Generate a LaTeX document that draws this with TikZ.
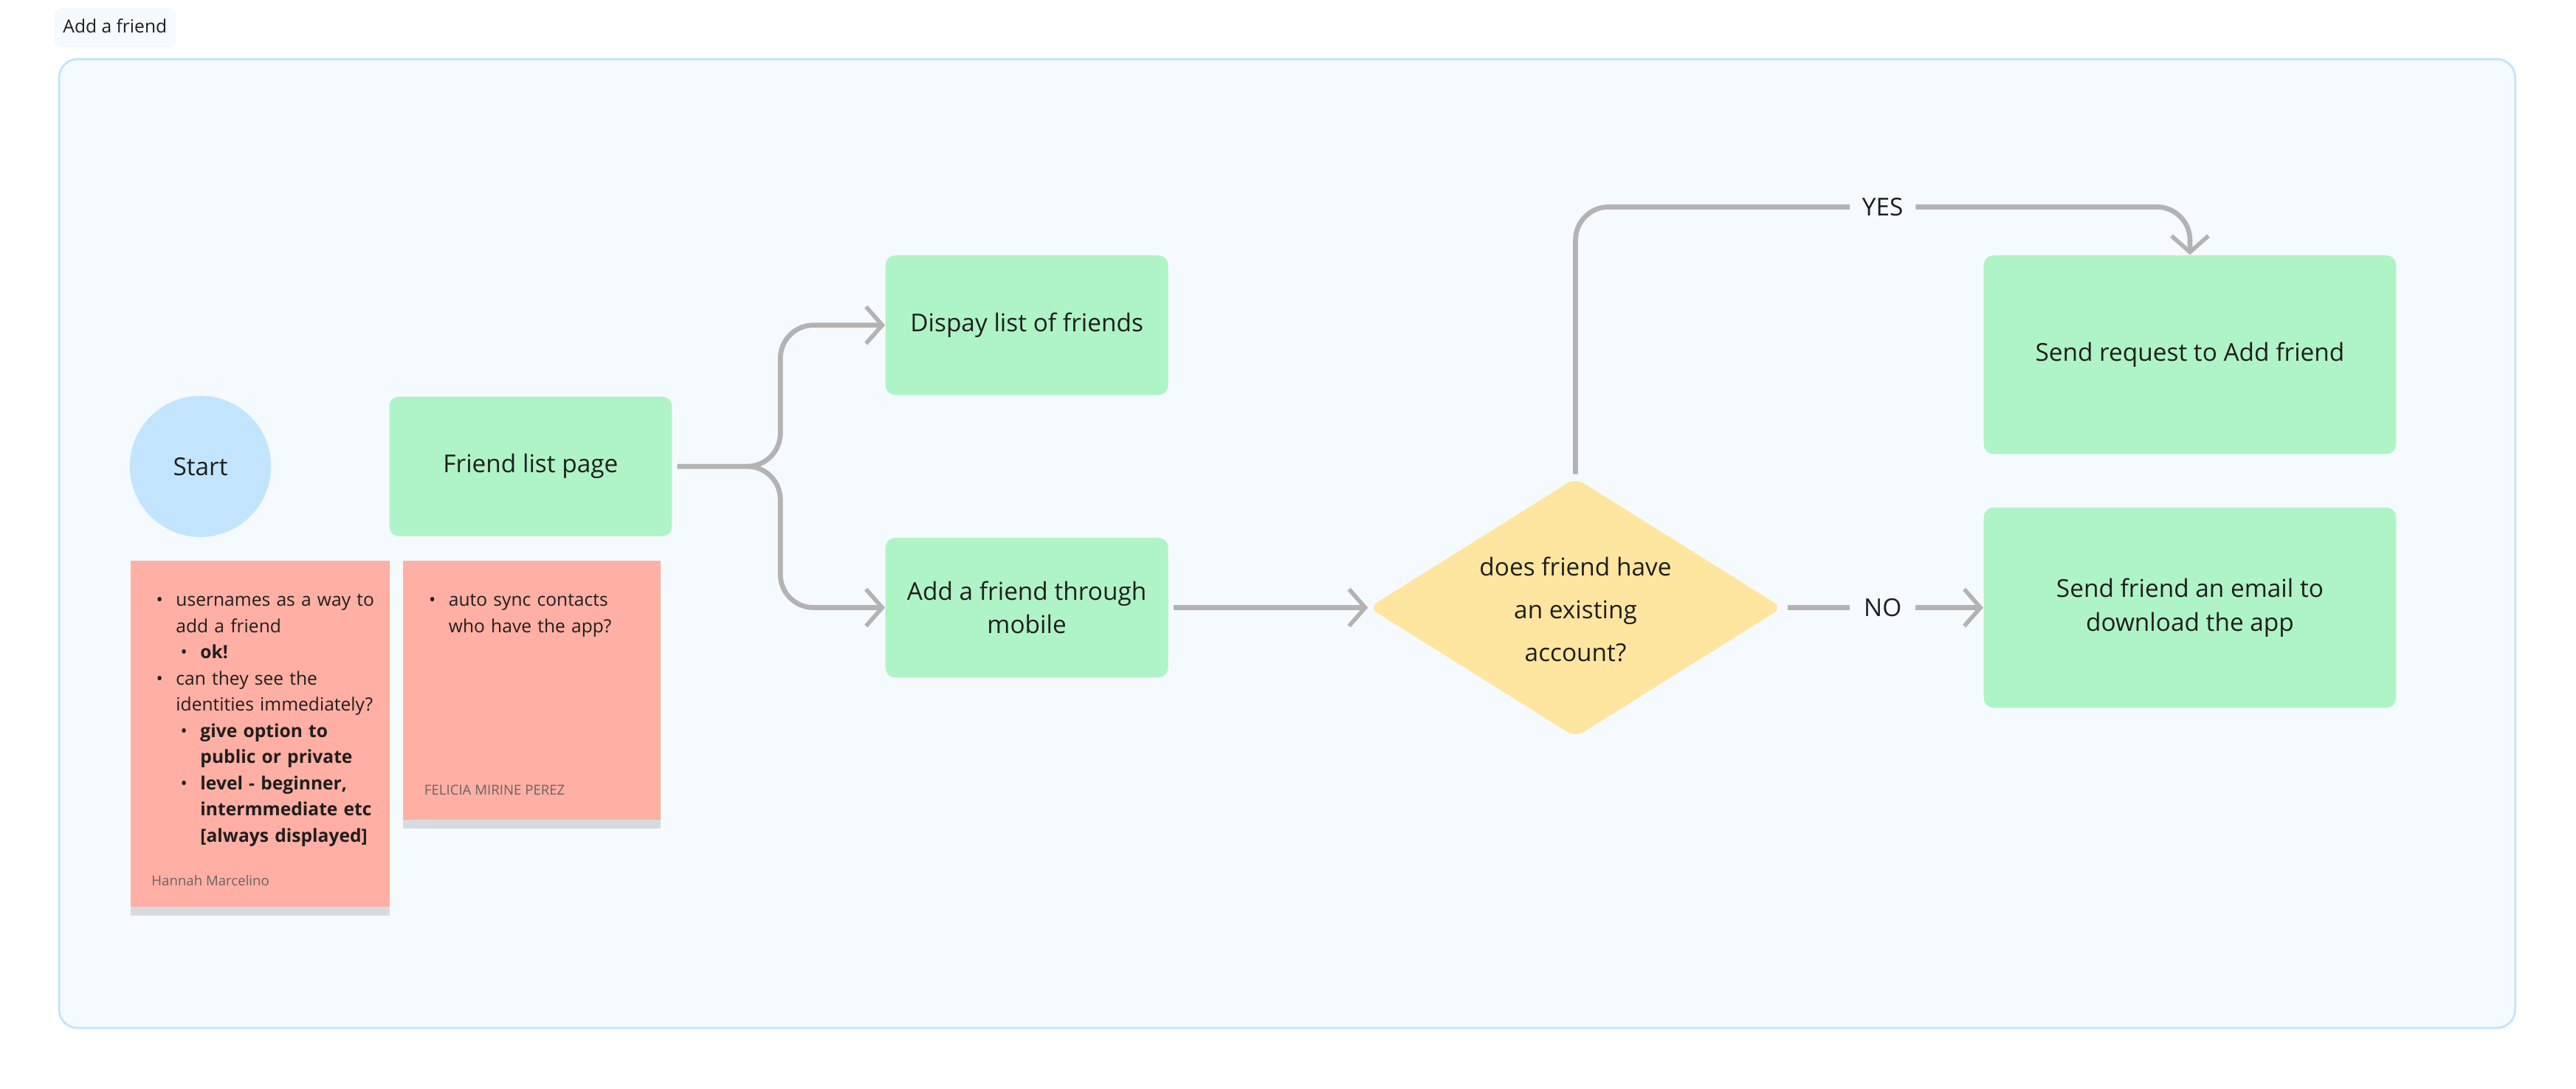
\documentclass[tikz,border=0pt]{standalone}
\usepackage{fontspec}
\setmainfont{Open Sans}
\usepackage{enumitem}
\usetikzlibrary{arrows.meta,shapes.geometric,shadows}
\definecolor{frameb}{HTML}{C2E5FD}
\definecolor{framef}{HTML}{F5FAFE}
\definecolor{grn}{HTML}{AFF4C6}
\definecolor{startc}{HTML}{C2E5FD}
\definecolor{sticky}{HTML}{FFAFA3}
\definecolor{dia}{HTML}{FFE6A0}
\definecolor{lin}{HTML}{B3B3B3}
\definecolor{txt}{HTML}{1E1E1E}
\begin{document}
\begin{tikzpicture}[x=0.02226cm,y=-0.02226cm,
  box/.style={fill=grn,rounded corners=1.3mm,inner sep=0pt,font=\fontsize{9.5}{13}\selectfont,text=txt,align=center},
  note/.style={fill=sticky,inner sep=0pt,drop shadow={shadow xshift=0pt,shadow yshift=-1.2mm,opacity=0.25,fill=gray}},
  conn/.style={draw=lin,line width=1.9pt,rounded corners=4.5mm,-{Straight Barb[length=2.2mm,width=5mm,line width=1.6pt]}},
  lbl/.style={fill=framef,font=\fontsize{9.5}{12}\selectfont,text=txt,inner sep=2mm}]
\useasboundingbox (0,0) rectangle (1568,663);
\fill[white] (0,0) rectangle (1568,663);
\node[fill=framef,rounded corners=1mm,minimum width=68\pgflinewidth,inner sep=0pt,font=\fontsize{7}{9}\selectfont,text=txt] (title) at (70,17) {\rule{0pt}{0pt}\hspace{1.2mm}Add a friend\hspace{1.2mm}\rule[-2mm]{0pt}{5.3mm}};
\draw[frameb,fill=framef,line width=0.8pt,rounded corners=2.5mm] (36,36) rectangle (1531,626);
\node[circle,fill=startc,minimum size=86*0.2226mm,inner sep=0pt,font=\fontsize{9.5}{12}\selectfont,text=txt] (start) at (122,284) {Start};
\node[box,minimum width=172*0.2226mm,minimum height=85*0.2226mm] (flp) at (323,284) {Friend list page};
\node[box,minimum width=172*0.2226mm,minimum height=85*0.2226mm] (disp) at (625,198) {Dispay list of friends};
\node[box,minimum width=172*0.2226mm,minimum height=85*0.2226mm] (mob) at (625,370) {Add a friend through\\mobile};
\node[diamond,fill=dia,rounded corners=1.3mm,inner sep=0pt,minimum width=252*0.2226mm,minimum height=158*0.2226mm,font=\fontsize{9.5}{16}\selectfont,text=txt,align=center] (dec) at (959,370) {};
\node[font=\fontsize{9.5}{16.5}\selectfont,text=txt,align=center] at (959,371) {does friend have\\an existing\\account?};
\node[box,minimum width=251*0.2226mm,minimum height=121*0.2226mm] (req) at (1333,216) {Send request to Add friend};
\node[box,minimum width=251*0.2226mm,minimum height=122*0.2226mm] (mail) at (1333,370) {Send friend an email to\\download the app};
% sticky notes
\node[note,minimum width=158*0.2226mm,minimum height=211*0.2226mm,anchor=north west] (n1) at (79,341) {};
\node[note,minimum width=157*0.2226mm,minimum height=158*0.2226mm,anchor=north west] (n2) at (245,341) {};
\node[anchor=north west,inner sep=0pt,text width=140*0.2226mm,font=\fontsize{7}{10.1}\selectfont,text=txt] (t1) at (92,353) {%
\begin{itemize}[leftmargin=3.3mm,itemsep=0pt,topsep=0pt,parsep=0pt,label=\textbullet]
\item usernames as a way to add a friend
 \begin{itemize}[leftmargin=3.3mm,itemsep=0pt,topsep=0pt,parsep=0pt,label=\textbullet]\item \textbf{ok!}\end{itemize}
\item can they see the identities immediately?
 \begin{itemize}[leftmargin=3.3mm,itemsep=0pt,topsep=0pt,parsep=0pt,label=\textbullet]\item \textbf{give option to public or private}\item \textbf{level - beginner, intermmediate etc [always displayed]}\end{itemize}
\end{itemize}};
\node[anchor=north west,inner sep=0pt,text width=135*0.2226mm,font=\fontsize{7}{10.1}\selectfont,text=txt] (t2) at (258,353) {%
\begin{itemize}[leftmargin=3.3mm,itemsep=0pt,topsep=0pt,parsep=0pt,label=\textbullet]
\item auto sync contacts who have the app?
\end{itemize}};
\node[anchor=west,inner sep=0pt,font=\fontsize{5.3}{7}\selectfont,text=black!60] (a1) at (92,536) {Hannah Marcelino};
\node[anchor=west,inner sep=0pt,font=\fontsize{5.3}{7}\selectfont,text=black!60] (a2) at (258,481) {FELICIA MIRINE PEREZ};
% connectors
\coordinate (sp) at (475,284);
\draw[conn] (flp.east)++(3,0) -- (sp) |- (disp.west);
\draw[conn] (flp.east)++(3,0) -- (sp) |- (mob.west);
\draw[conn] (mob.east)++(3,0) -- (dec.west);
\draw[conn,-] (dec.north)++(0,-2) |- (1126,126);
\draw[conn] (1166,126) -| (req.north);
\node[lbl,fill=none] (yes) at (1146,126) {YES};
\draw[conn,-] (dec.east)++(3,0) -- (1126,370);
\draw[conn] (1166,370) -- (mail.west);
\node[lbl,fill=none] (no) at (1146,370) {NO};
\end{tikzpicture}
\end{document}
